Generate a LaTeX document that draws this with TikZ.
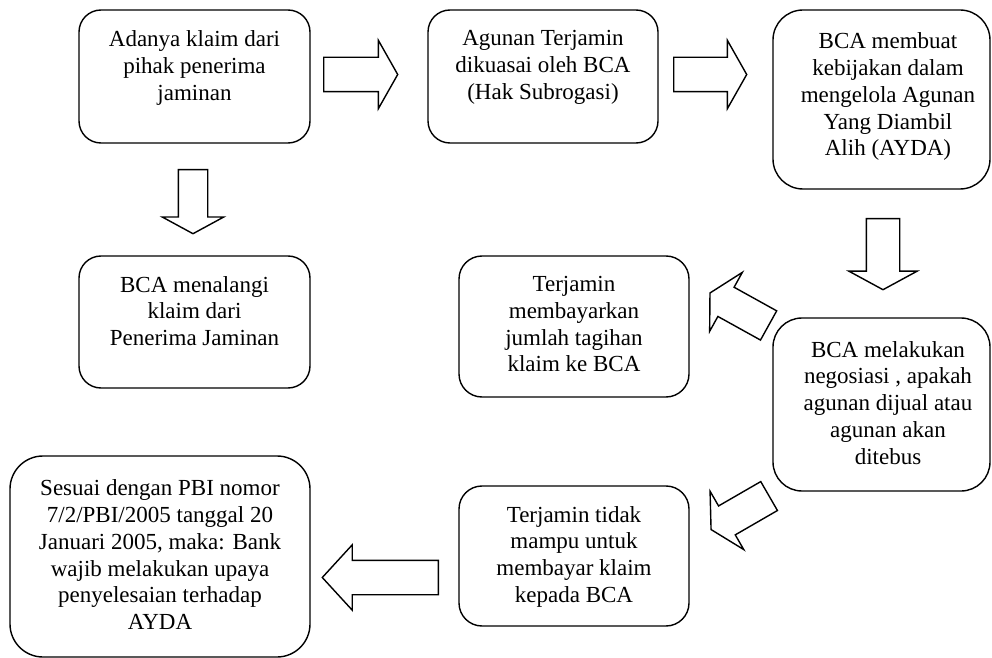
\documentclass[tikz,border=0pt]{standalone}
\usepackage{fontspec}
\setmainfont{Liberation Serif}
\usetikzlibrary{positioning,shapes.arrows}

\begin{document}
\begin{tikzpicture}[x=0.5pt,y=0.5pt]
\tikzstyle{box}=[draw, line width=0.7pt, inner sep=0pt]
\tikzstyle{txt}=[inner sep=0pt, align=center, font=\fontsize{11.5}{13.4}\selectfont]
\tikzstyle{blk}=[draw, line width=0.7pt, single arrow, anchor=tail, inner xsep=0pt, inner ysep=8.25pt,
  single arrow head extend=8.5pt, single arrow tip angle=121, minimum height=37pt]
\useasboundingbox (0,0) rectangle (992,-658);
% boxes
\node [box, rounded corners=11pt, minimum width=115.5pt, minimum height=66.5pt] (b1) at (194.5,-76.5) {};
\node [txt, below=10.5pt of b1.north] (t1) {Adanya klaim dari\\pihak penerima\\jaminan};
\node [box, rounded corners=11pt, minimum width=115pt, minimum height=66.5pt] (b2) at (543,-76.5) {};
\node [txt, below=10.5pt of b2.north] (t2) {Agunan Terjamin\\dikuasai oleh BCA\\(Hak Subrogasi)};
\node [box, rounded corners=15pt, minimum width=108.5pt, minimum height=89.5pt] (b3) at (881.5,-99.5) {};
\node [txt, below=11.5pt of b3.north, xshift=3.25pt] (t3) {BCA membuat\\kebijakan dalam\\mengelola Agunan\\Yang Diambil\\Alih (AYDA)};
\node [box, rounded corners=14.5pt, minimum width=108.5pt, minimum height=86.5pt] (b4) at (881.5,-404.5) {};
\node [txt, below=11.75pt of b4.north, xshift=3.25pt] (t4) {BCA melakukan\\negosiasi , apakah\\agunan dijual atau\\agunan akan\\ditebus};
\node [box, rounded corners=11.5pt, minimum width=115pt, minimum height=70.5pt] (b5) at (574,-326.5) {};
\node [txt, below=10.25pt of b5.north] (t5) {Terjamin\\membayarkan\\jumlah tagihan\\klaim ke BCA};
\node [box, rounded corners=11.5pt, minimum width=115pt, minimum height=70pt] (b6) at (574,-556) {};
\node [txt, below=10.25pt of b6.north] (t6) {Terjamin tidak\\mampu untuk\\membayar klaim\\kepada BCA};
\node [box, rounded corners=16.5pt, minimum width=150pt, minimum height=100.5pt] (b7) at (160,-556.5) {};
\node [txt, below=12pt of b7.north] (t7) {Sesuai dengan PBI nomor\\7/2/PBI/2005 tanggal 20\\Januari 2005, maka: Bank\\wajib melakukan upaya\\penyelesaian terhadap\\AYDA};
\node [box, rounded corners=11pt, minimum width=115.5pt, minimum height=66pt] (b8) at (194.5,-322) {};
\node [txt, below=10.25pt of b8.north] (t8) {BCA menalangi\\klaim dari\\Penerima Jaminan};
% block arrows, placed by their tails
\node [blk] (ar1) at (323,-74.5) {};
\node [blk, minimum height=36.5pt] (ar2) at (673,-74.5) {};
\node [blk, rotate=-90, inner ysep=8pt, single arrow head extend=8.75pt, single arrow tip angle=123, minimum height=35.5pt] (ar3) at (883,-218) {};
\node [blk, rotate=151, inner ysep=8pt, single arrow tip angle=123, minimum height=33.5pt] (ar4) at (769.2,-325.8) {};
\node [blk, rotate=210, inner ysep=8pt, single arrow tip angle=123, minimum height=33.5pt] (ar5) at (769.7,-495.7) {};
\node [blk, rotate=180, single arrow head extend=7.75pt, single arrow tip angle=95, minimum height=58pt] (ar6) at (439,-577.5) {};
\node [blk, rotate=-90, inner ysep=7pt, single arrow head extend=8pt, single arrow tip angle=123, minimum height=32pt] (ar7) at (193,-169) {};
\end{tikzpicture}
\end{document}
